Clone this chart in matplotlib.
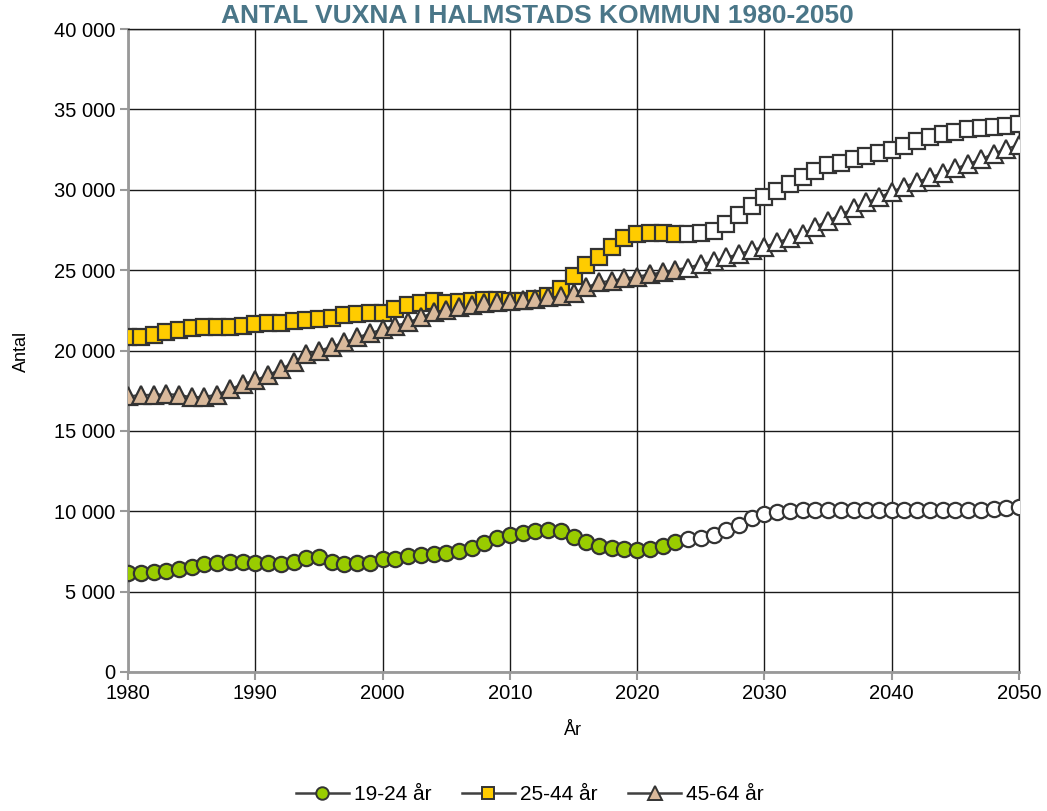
import matplotlib
matplotlib.use("Agg")

import matplotlib.pyplot as plt
from matplotlib.ticker import FuncFormatter, MultipleLocator

# Data (1980-2023 outcome, 2024-2050 projection)
years = list(range(1980, 2051))
last_observed = 2023

age_19_24 = [
    6150, 6150, 6200, 6280, 6400, 6530, 6720, 6780, 6840, 6840,
    6780, 6780, 6720, 6840, 7090, 7150, 6840, 6720, 6780, 6780,
    7030, 7030, 7220, 7280, 7340, 7400, 7530, 7710, 8020, 8330,
    8550, 8650, 8770, 8830, 8770, 8400, 8090, 7840, 7710, 7650,
    7590, 7650, 7840, 8100, 8250, 8350, 8520, 8830, 9140, 9550,
    9850, 9950, 10000, 10050, 10080, 10080, 10080, 10080, 10080, 10080,
    10080, 10080, 10080, 10080, 10080, 10080, 10080, 10100, 10150, 10220,
    10280,
]
age_25_44 = [
    20840, 20840, 20960, 21150, 21270, 21400, 21460, 21460, 21460, 21520,
    21650, 21710, 21710, 21830, 21900, 21960, 22020, 22210, 22270, 22330,
    22330, 22580, 22830, 22950, 23080, 22950, 23020, 23080, 23140, 23140,
    23080, 23080, 23200, 23390, 23820, 24630, 25320, 25800, 26450, 27010,
    27240, 27320, 27340, 27240, 27240, 27340, 27430, 27900, 28460, 28960,
    29550, 29920, 30380, 30790, 31160, 31540, 31660, 31910, 32100, 32290,
    32470, 32720, 33050, 33300, 33460, 33600, 33760, 33820, 33880, 33960,
    34090,
]
age_45_64 = [
    17150, 17230, 17250, 17290, 17250, 17090, 17130, 17250, 17600, 17910,
    18160, 18470, 18850, 19260, 19780, 19990, 20240, 20510, 20820, 21070,
    21330, 21540, 21750, 22060, 22370, 22510, 22680, 22850, 22930, 22990,
    23090, 23140, 23200, 23300, 23400, 23550, 23930, 24240, 24340, 24490,
    24590, 24750, 24860, 25030, 25160, 25380, 25540, 25790, 26000, 26250,
    26460, 26730, 27000, 27240, 27700, 28070, 28450, 28860, 29210, 29520,
    29890, 30200, 30500, 30770, 31050, 31330, 31600, 31900, 32250, 32550,
    32800,
]

series = [
    ("19-24 år", age_19_24, "o", "#99cc00", 11),
    ("25-44 år", age_25_44, "s", "#ffcc00", 11),
    ("45-64 år", age_45_64, "^", "#d9b99b", 13),
]

plt.rcParams["font.family"] = ["Liberation Sans", "DejaVu Sans"]

fig = plt.figure(figsize=(10.47, 8.11), dpi=100)
ax = fig.add_axes([0.1223, 0.1714, 0.851, 0.7928])

edge = "#333333"
split = years.index(last_observed) + 1

for label, values, marker, color, ms in series:
    # connecting line for the whole period
    ax.plot(years, values, "-", color="#404040", lw=1.5, zorder=3)
    # observed years: filled markers
    ax.plot(years[:split], values[:split], linestyle="none", marker=marker,
            markersize=ms, markerfacecolor=color, markeredgecolor=edge,
            markeredgewidth=1.6, zorder=4)
    # projection: white markers
    ax.plot(years[split:], values[split:], linestyle="none", marker=marker,
            markersize=ms, markerfacecolor="white", markeredgecolor=edge,
            markeredgewidth=1.6, zorder=4)
    # legend proxy
    ax.plot([], [], "-", color="#404040", lw=1.8, marker=marker,
            markersize=9 if marker != "^" else 10, markerfacecolor=color,
            markeredgecolor=edge, markeredgewidth=1.4, label=label)

ax.set_xlim(1980, 2050)
ax.set_ylim(0, 40000)
ax.xaxis.set_major_locator(MultipleLocator(10))
ax.yaxis.set_major_locator(MultipleLocator(5000))
ax.yaxis.set_major_formatter(FuncFormatter(lambda v, p: f"{int(v):,}".replace(",", " ")))

ax.grid(True, color="#1a1a1a", lw=1.0, zorder=0)
ax.set_axisbelow(True)
for side in ["top", "right"]:
    ax.spines[side].set_color("#1a1a1a")
    ax.spines[side].set_linewidth(1.0)
for side in ["left", "bottom"]:
    ax.spines[side].set_color("#999999")
    ax.spines[side].set_linewidth(2.0)
ax.tick_params(direction="out", length=6, width=1.5, color="#999999",
               labelsize=14.5, pad=3)

ax.set_xlabel("År", fontsize=13)
ax.set_ylabel("Antal", fontsize=13)
ax.xaxis.set_label_coords(0.4994, -0.078)
ax.yaxis.set_label_coords(-0.110, 0.499)

fig.text(0.513, 1 - 23 / 811, "ANTAL VUXNA I HALMSTADS KOMMUN 1980-2050",
         ha="center", va="baseline", fontsize=19, fontweight="bold",
         color="#4a7688", family=["Liberation Sans Narrow", "Liberation Sans", "DejaVu Sans"])

ax.legend(loc="center", bbox_to_anchor=(0.451, -0.191), ncol=3,
          frameon=False, fontsize=15, handlelength=2.55, columnspacing=1.45,
          handletextpad=0.25)

fig.savefig("out.png", dpi=100)
